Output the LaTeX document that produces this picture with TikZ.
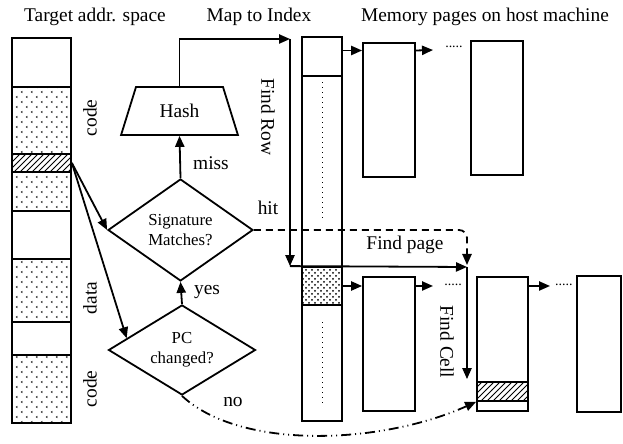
\documentclass[tikz,border=0pt]{standalone}
\usepackage{fontspec}
\setmainfont{Liberation Serif}
\usepackage{tikz}
\usetikzlibrary{arrows.meta,positioning,shapes.geometric,patterns,fit}
\tikzset{>={Triangle[length=5.5pt,width=4.6pt]}}
% small chevron marks for the filled regions
\pgfdeclarepatternformonly{chevdots}{\pgfpointorigin}{\pgfqpoint{5pt}{5pt}}{\pgfqpoint{5pt}{5pt}}{
  \pgfsetlinewidth{0.3pt}
  \pgfpathmoveto{\pgfqpoint{1.7pt}{0.6pt}}\pgfpathlineto{\pgfqpoint{1.1pt}{1pt}}\pgfpathlineto{\pgfqpoint{1.7pt}{1.4pt}}
  \pgfpathmoveto{\pgfqpoint{4.2pt}{3.1pt}}\pgfpathlineto{\pgfqpoint{3.6pt}{3.5pt}}\pgfpathlineto{\pgfqpoint{4.2pt}{3.9pt}}
  \pgfusepath{stroke}}

\begin{document}
\begin{tikzpicture}[x=0.5pt,y=-0.5pt,line width=0.9pt,
    font=\fontsize{9.7}{11}\selectfont,
    cell/.style={draw,inner sep=0pt},
    dec/.style={diamond,draw,inner sep=0pt,shape aspect=1.4,align=center,
      font=\fontsize{8.4}{10}\selectfont},
    more/.style={font=\fontsize{7}{8}\selectfont,inner sep=0pt}]
    \useasboundingbox (0,0) rectangle (623,444);

    % target address space
    \node (tas) at (95,17) {Target addr. space};
    \node[cell,fit={(12,38) (71,87)}] (ta1) {};
    \node[cell,pattern=chevdots,fit={(12,87) (71,154)}] (ta2) {};
    \node[cell,pattern=north east lines,fit={(12,154) (71,172)}] (ta3) {};
    \node[cell,pattern=chevdots,fit={(12,172) (71,211)}] (ta4) {};
    \node[cell,fit={(12,211) (71,259)}] (ta5) {};
    \node[cell,pattern=chevdots,fit={(12,259) (71,322)}] (ta6) {};
    \node[cell,fit={(12,322) (71,355)}] (ta7) {};
    \node[cell,pattern=chevdots,fit={(12,355) (71,423)}] (ta8) {};
    \node[rotate=90] (code1) at (90,118) {code};
    \node[rotate=90] (data1) at (90,298) {data};
    \node[rotate=90] (code2) at (90,389) {code};

    % lookup
    \node[trapezium,draw,trapezium stretches=true,trapezium left angle=63.4,
      trapezium right angle=63.4,minimum width=58.5pt,minimum height=24pt,
      inner sep=0pt] (hash) at (179.5,111) {Hash};
    \node[dec,minimum width=72.5pt,minimum height=51pt] (sig) at (180.5,230) {Signature\\Matches?};
    \node[dec,minimum width=73.5pt,minimum height=45pt] (pc) at (182,350) {PC\\changed?};

    % index
    \node (mti) at (259,17) {Map to Index};
    \node[cell,fit={(302,37) (342,76)}] (ix1) {};
    \node[cell,fit={(302,76) (342,267)}] (ix2) {};
    \node[cell,pattern=crosshatch dots,fit={(302,267) (342,305)}] (ix3) {};
    \node[cell,fit={(302,305) (342,421)}] (ix4) {};
    \draw[dotted,line width=0.5pt] ([yshift=-3.5pt]ix2.north) -- ([yshift=25pt]ix2.south);
    \draw[dotted,line width=0.5pt] ([yshift=-9pt]ix4.north) -- ([yshift=8pt]ix4.south);

    % pages
    \node (mem) at (485,17) {Memory pages on host machine};
    \node[cell,fit={(363,43) (415,177)}] (p1) {};
    \node[more] (m1) at (454,47) {.....};
    \node[cell,fit={(471,41) (523,175)}] (p2) {};
    \node[cell,fit={(363,277) (415,411)}] (q1) {};
    \node[more] (m2) at (453,285) {.....};
    \node[cell,fit={(477,277) (528,411)}] (q2) {};
    \node[cell,pattern=north east lines,fit={(477,382) (528,401)}] (qc) {};
    \node[more] (m3) at (564,285) {.....};
    \node[cell,fit={(577,276) (621,412)}] (q3) {};

    % page chains
    \coordinate (r1) at ([yshift=3pt]ix1.east);
    \coordinate (a1) at (433,50);
    \coordinate (a2) at (433,286);
    \coordinate (a3) at (550,286);
    \draw[->] (r1) -- (r1 -| p1.west);
    \draw[->] (r1 -| p1.east) -- (a1);
    \draw[->] (ix3.east) -- (ix3.east -| q1.west);
    \draw[->] (ix3.east -| q1.east) -- (a2);
    \draw[->] (ix3.east -| q2.east) -- (a3);

    % find row / page / cell
    \coordinate (rowtop) at (290,39);
    \coordinate (fp) at (467,267);
    \coordinate (cellend) at (fp |- qc.north);
    \draw[->] (hash.north) |- (rowtop);
    \draw[->] (rowtop) -- (rowtop |- ix3.north);
    \draw[->] (rowtop |- ix3.north) -- (fp);
    \draw[->] (fp) -- ([yshift=1pt]cellend);
    \node[rotate=-90] (frow) at (268,117) {Find Row};
    \node (fpage) at (405,245) {Find page};
    \node[rotate=-90] (fcell) at (447,342) {Find Cell};

    % decisions
    \draw[->] (ta3.east) -- (sig.west);
    \draw[->] (ta3.east) -- (pc.168);
    \draw[->] (sig.north) -- (hash.south);
    \draw[->] (pc.north) -- (sig.south);
    \draw[->,dash pattern=on 3.5pt off 2.5pt,rounded corners=4pt] (sig.east) -| ([yshift=1pt]fp);
    \draw[->,dash pattern=on 5pt off 2pt on 0.5pt off 2pt on 0.5pt off 2pt]
      (pc.south) .. controls (240,450) and (380,445) .. (qc.south west);
    \node (miss) at (211,163) {miss};
    \node (yes) at (207,292) {yes};
    \node (hit) at (268,208) {hit};
    \node (no) at (233,402) {no};
\end{tikzpicture}
\end{document}
